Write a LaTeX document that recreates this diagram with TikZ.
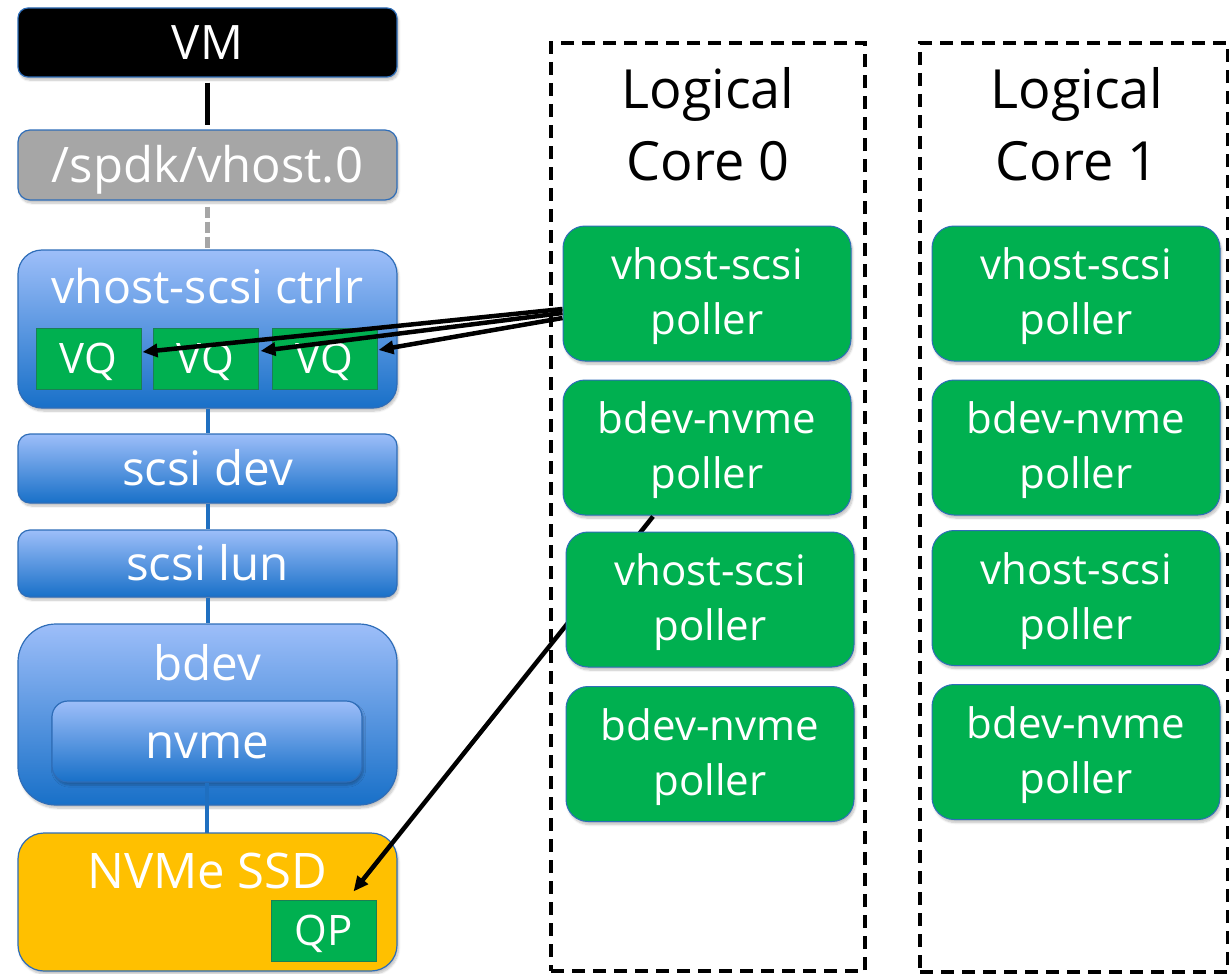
\documentclass[tikz,border=0pt]{standalone}
\usepackage{fontspec}
\setmainfont{Open Sans}
\usetikzlibrary{arrows.meta,calc,shadows.blur}

\definecolor{edgeblue}{HTML}{2E6DB8}
\definecolor{spdkgray}{HTML}{A6A6A6}
\definecolor{bluetop}{HTML}{9DBEF9}
\definecolor{bluebot}{HTML}{1870C8}
\definecolor{linkblue}{HTML}{1F6FC0}
\definecolor{pollgreen}{HTML}{00B050}
\definecolor{queueedge}{HTML}{1A7F55}
\definecolor{ssdyellow}{HTML}{FFC000}

\newcommand{\fsz}[2]{\fontsize{#1}{#2}\selectfont}

\tikzset{
  softshadow/.style={blur shadow={shadow blur steps=6, shadow xshift=1.5pt, shadow yshift=-3pt, shadow opacity=25}},
  stackbox/.style={draw=edgeblue, line width=1.2pt, minimum width=379pt, inner sep=0pt,
    text=white, font=\fsz{47.5}{55}, text height=34pt, text depth=0pt, softshadow},
  bluebox/.style={stackbox, top color=bluetop, bottom color=bluebot},
  boxcaption/.style={anchor=base, inner sep=0pt, text=white, font=\fsz{47.5}{55}},
  queuebox/.style={draw=queueedge, line width=1pt, fill=pollgreen, minimum width=105pt,
    minimum height=61pt, inner sep=0pt, text=white, font=\fsz{42}{50},
    text height=30pt, text depth=0pt},
  pollerbox/.style={draw=edgeblue, line width=1pt, fill=pollgreen, rounded corners=22pt,
    minimum width=288pt, minimum height=135pt, inner sep=0pt, text=white,
    font=\fsz{42}{55}, align=center, text depth=4pt, softshadow},
  coreframe/.style={draw=black, line width=4pt, dash pattern=on 13pt off 8pt, inner sep=0pt},
  coretitle/.style={font=\fsz{54}{72}, align=center, anchor=north, inner sep=0pt},
  stacklink/.style={draw=linkblue, line width=4pt},
  callarrow/.style={draw=black, line width=4.5pt, -{Triangle[length=15pt,width=13pt]}},
}

\begin{document}
\begin{tikzpicture}[x=1pt,y=-1pt]
\useasboundingbox (0,0) rectangle (1229,974);

% logical core frames and their titles
\node[coreframe, minimum width=314pt, minimum height=928pt] (core0) at (708,507) {};
\node[coreframe, minimum width=308pt, minimum height=929pt] (core1) at (1074,507.5) {};
\node[coretitle] (title0) at (708,67) {Logical\\Core 0};
\node[coretitle] (title1) at (1077,67) {Logical\\Core 1};

% the vhost stack
\node[stackbox, fill=black, rounded corners=10pt, minimum height=69pt] (vm) at (207.5,42.5) {VM};
\node[stackbox, fill=spdkgray, rounded corners=12pt, minimum height=70pt, font=\fsz{49}{55}] (sock) at (207.5,165) {/spdk/vhost.0};
\node[bluebox, rounded corners=24pt, minimum height=158pt] (ctrl) at (207.5,329) {};
\node[boxcaption, font=\fsz{46.5}{55}] (ctrltext) at (207.5,303) {vhost-scsi ctrlr};
\node[queuebox] (vq1) at (88.5,358.5) {VQ};
\node[queuebox] (vq2) at (205.5,358.5) {VQ};
\node[queuebox] (vq3) at (324.5,358.5) {VQ};
\node[bluebox, rounded corners=12pt, minimum height=69pt] (scsidev) at (207.5,468.5) {scsi dev};
\node[bluebox, rounded corners=12pt, minimum height=67pt] (scsilun) at (207.5,563.5) {scsi lun};
\node[bluebox, rounded corners=38pt, minimum height=181pt] (bdev) at (207.5,714.5) {};
\node[boxcaption] (bdevtext) at (207.5,680) {bdev};
\node[bluebox, rounded corners=16pt, minimum width=310pt, minimum height=81pt] (nvme) at (207,741.5) {nvme};

% links down the stack
\draw[line width=5pt, shorten <=5pt, shorten >=4pt] (vm.south) -- (sock.north);
\draw[draw=spdkgray, line width=5pt, dash pattern=on 11pt off 4pt, shorten <=6pt] (sock.south) -- (ctrl.north);
\draw[stacklink] (ctrl.south) -- (scsidev.north);
\draw[stacklink] (scsidev.south) -- (scsilun.north);
\draw[stacklink] (scsilun.south) -- (bdev.north);
\draw[stacklink] (nvme.south) -- ($(nvme.south)+(0,52)$) coordinate (ssdtop);

\node[stackbox, fill=ssdyellow, rounded corners=26pt, minimum height=138pt] (ssd) at (207.5,902) {};
\node[boxcaption, font=\fsz{49}{55}] (ssdtext) at (207.5,888) {NVMe SSD};
\node[queuebox] (qp) at (323.5,930.5) {QP};

% pollers on logical core 0
\node[pollerbox] (p0a) at (707,293.5) {vhost-scsi\\poller};
\node[pollerbox] (p0b) at (707,447.5) {bdev-nvme\\poller};
\node[pollerbox] (p0d) at (710,754) {bdev-nvme\\poller};

% pollers on logical core 1
\node[pollerbox] (p1a) at (1076,293.5) {vhost-scsi\\poller};
\node[pollerbox] (p1b) at (1076,447.5) {bdev-nvme\\poller};
\node[pollerbox] (p1c) at (1076,598) {vhost-scsi\\poller};
\node[pollerbox] (p1d) at (1076,752) {bdev-nvme\\poller};

% the vhost-scsi poller serves all three virtqueues
\draw[callarrow] ($(p0a.west)+(0,15.5)$) -- ($(vq1.east)+(1,-6.5)$);
\draw[callarrow] ($(p0a.west)+(0,19.5)$) -- ($(vq2.east)+(2,-7.5)$);
\draw[callarrow] ($(p0a.west)+(0,24.5)$) -- ($(vq3.east)+(1,-8.5)$);

% the bdev-nvme poller drives the queue pair
\draw[callarrow] ($(p0b.south)+(-54,1)$) -- ($(qp.north)+(30,-8)$);

% drawn last so that it covers the queue-pair link
\node[pollerbox] (p0c) at (710,599.5) {vhost-scsi\\poller};
\end{tikzpicture}
\end{document}
